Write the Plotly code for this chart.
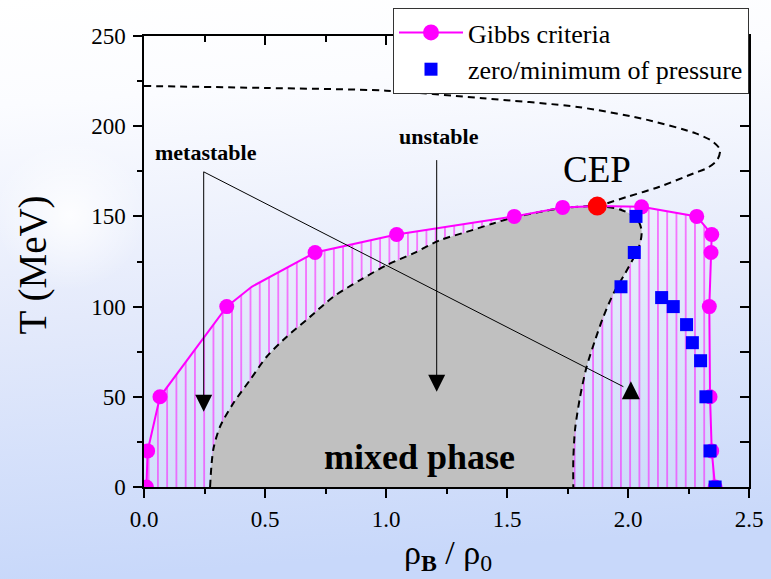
import base64
import plotly.graph_objects as go

# ---------------- data ----------------
# Gibbs criteria curve (polyline) and its marked points
gibbs_line_x = [0.01, 0.015, 0.066, 0.342, 0.445, 0.707, 1.044, 1.530, 1.730, 1.873, 2.056, 2.284, 2.346, 2.343, 2.336, 2.339, 2.346, 2.360]
gibbs_line_y = [0, 20, 50, 100, 111, 130, 140, 150, 155, 155.7, 155.3, 150, 140, 130, 100, 50, 20, 0]
gibbs_pts_x = [0.01, 0.015, 0.066, 0.342, 0.707, 1.044, 1.530, 1.730, 2.056, 2.284, 2.346, 2.343, 2.336, 2.339, 2.346, 2.360]
gibbs_pts_y = [0, 20, 50, 100, 130, 140, 150, 155, 155.3, 150, 140, 130, 100, 50, 20, 0]

# zero / minimum of pressure
pressure_x = [2.033, 2.026, 1.971, 2.139, 2.187, 2.242, 2.266, 2.300, 2.322, 2.339, 2.360]
pressure_y = [150, 130, 111, 105, 100, 90, 80, 70, 50, 20, 0]

# critical end point
cep_x = [1.873]
cep_y = [155.7]

# spinodal boundary of the mixed phase (left branch, bottom -> CEP)
spin_left_x = [0.273, 0.286, 0.314, 0.369, 0.438, 0.507, 0.590, 0.686, 0.782, 0.893, 1.003, 1.113, 1.223, 1.333, 1.443, 1.512, 1.636, 1.730, 1.873]
spin_left_y = [0, 20.5, 33.4, 46.4, 59.3, 72.2, 83.3, 94.3, 105.4, 114.7, 123, 129.5, 136.8, 141.4, 146.1, 148.9, 152.5, 154.6, 155.7]
# right branch, CEP -> bottom
spin_right_x = [1.873, 1.967, 2.036, 2.056, 2.050, 2.029, 1.988, 1.940, 1.898, 1.864, 1.829, 1.802, 1.781, 1.774, 1.774]
spin_right_y = [155.7, 153.8, 148.9, 142.4, 135, 128.5, 118.4, 107.3, 94.3, 81.4, 66.6, 50, 31.6, 15, 0]
# upper dashed branch, left edge -> CEP
upper_x = [0.00, 0.50, 1.00, 1.40, 1.80, 2.08, 2.28, 2.35, 2.38, 2.37, 2.33, 2.27, 2.13, 1.995, 1.912, 1.873]
upper_y = [222.3, 221.2, 219.7, 215.5, 210.5, 203.5, 196.0, 191.5, 187, 181.5, 177, 173.8, 166.4, 160.8, 157.2, 155.7]

# arrow guides
meta_vertex = (0.2467, 174.7)
meta_down_tip = (0.2467, 41.7)
meta_diag_end = (1.981, 55.6)
meta_up_tip = (2.012, 58.6)
unst_top = (1.2095, 181.2)
unst_tip = (1.2095, 52.8)

x_ticks = [0.0, 0.5, 1.0, 1.5, 2.0, 2.5]
x_ticktext = ["0.0", "0.5", "1.0", "1.5", "2.0", "2.5"]
x_minor = [0.25, 0.75, 1.25, 1.75, 2.25]
y_ticks = [0, 50, 100, 150, 200, 250]
y_ticktext = ["0", "50", "100", "150", "200", "250"]
y_minor = [25, 75, 125, 175, 225]

FONT = "Liberation Serif, Times New Roman, serif"
MAGENTA = "#ff00ff"

# ---------------- figure ----------------
fig = go.Figure()

# hatched metastable region (below Gibbs curve)
fig.add_trace(go.Scatter(
    x=gibbs_line_x, y=gibbs_line_y, mode="none", fill="toself",
    fillcolor="rgba(0,0,0,0)",
    fillpattern=dict(shape="|", size=9.26, solidity=0.2, fgcolor=MAGENTA, bgcolor="rgba(0,0,0,0)"),
    showlegend=False, hoverinfo="skip"))

# gray unstable region with dashed spinodal
fig.add_trace(go.Scatter(
    x=spin_left_x + spin_right_x[1:], y=spin_left_y + spin_right_y[1:],
    mode="lines", fill="toself", fillcolor="#c0c0c0",
    line=dict(color="black", width=2, dash="7px,5px", shape="spline", smoothing=0.8),
    showlegend=False, hoverinfo="skip"))

# upper dashed branch
fig.add_trace(go.Scatter(
    x=upper_x, y=upper_y, mode="lines",
    line=dict(color="black", width=2, dash="7px,5px", shape="spline", smoothing=0.8),
    showlegend=False, hoverinfo="skip"))

# Gibbs line + markers
fig.add_trace(go.Scatter(x=gibbs_line_x, y=gibbs_line_y, mode="lines",
                         line=dict(color=MAGENTA, width=2), showlegend=False, hoverinfo="skip"))
fig.add_trace(go.Scatter(x=gibbs_pts_x, y=gibbs_pts_y, mode="markers",
                         marker=dict(symbol="circle", size=15, color=MAGENTA), showlegend=False))
# legend entry for Gibbs criteria
fig.add_trace(go.Scatter(x=[None], y=[None], mode="lines+markers", name="Gibbs criteria",
                         line=dict(color=MAGENTA, width=2),
                         marker=dict(symbol="circle", size=16, color=MAGENTA)))

# zero/minimum of pressure
fig.add_trace(go.Scatter(x=pressure_x, y=pressure_y, mode="markers", name="zero/minimum of pressure",
                         marker=dict(symbol="square", size=13, color="#0000ff")))

# CEP
fig.add_trace(go.Scatter(x=cep_x, y=cep_y, mode="markers",
                         marker=dict(symbol="circle", size=19, color="#ff0000"), showlegend=False))

# arrows
arrow_line = dict(color="black", width=1)
fig.add_trace(go.Scatter(x=[meta_down_tip[0], meta_vertex[0], meta_diag_end[0]],
                         y=[meta_down_tip[1] + 8, meta_vertex[1], meta_diag_end[1]],
                         mode="lines", line=arrow_line, showlegend=False, hoverinfo="skip"))
fig.add_trace(go.Scatter(x=[unst_top[0], unst_tip[0]], y=[unst_top[1], unst_tip[1] + 8],
                         mode="lines", line=arrow_line, showlegend=False, hoverinfo="skip"))
fig.add_trace(go.Scatter(x=[meta_down_tip[0], unst_tip[0]], y=[meta_down_tip[1], unst_tip[1]],
                         mode="markers", marker=dict(symbol="arrow-down", size=17, color="black"),
                         showlegend=False, hoverinfo="skip", cliponaxis=False))
fig.add_trace(go.Scatter(x=[meta_up_tip[0]], y=[meta_up_tip[1]],
                         mode="markers", marker=dict(symbol="arrow-up", size=18, color="black"),
                         showlegend=False, hoverinfo="skip", cliponaxis=False))

# dummy trace for mirrored (inside) ticks
fig.add_trace(go.Scatter(x=[None], y=[None], xaxis="x2", yaxis="y2", showlegend=False, hoverinfo="skip"))

# text annotations
def ann(text, x, y, size, bold=False):
    fig.add_annotation(text=f"<b>{text}</b>" if bold else text, x=x, y=y, xref="x", yref="y",
                       showarrow=False, xanchor="center", yanchor="middle",
                       font=dict(family=FONT, size=size, color="black"))

ann("metastable", 0.257, 185.2, 22, bold=True)
ann("unstable", 1.219, 194.2, 22, bold=True)
ann("CEP", 1.871, 176.0, 37)
ann("mixed phase", 1.138, 16.5, 36, bold=True)

# axis titles
fig.add_annotation(text="T (MeV)", xref="paper", yref="paper", x=-0.183, y=0.492,
                   textangle=-90, showarrow=False, xanchor="center", yanchor="middle",
                   font=dict(family=FONT, size=39, color="black"))
fig.add_annotation(text="ρ<sub><b>B</b></sub> / ρ<sub>0</sub>", xref="paper", yref="paper",
                   x=0.502, y=-0.15, showarrow=False, xanchor="center", yanchor="middle",
                   font=dict(family=FONT, size=34, color="black"))

# background gradient
svg = """<svg xmlns='http://www.w3.org/2000/svg' width='771' height='579' viewBox='0 0 771 579'>
<defs>
<linearGradient id='g' x1='0' y1='0' x2='0.1' y2='1'>
<stop offset='0' stop-color='#ffffff'/>
<stop offset='0.18' stop-color='#fbfcff'/>
<stop offset='0.55' stop-color='#e4eafb'/>
<stop offset='1' stop-color='#c8d8fa'/>
</linearGradient>
<radialGradient id='r' cx='70' cy='215' r='75' gradientUnits='userSpaceOnUse'>
<stop offset='0' stop-color='#ffffff' stop-opacity='0.85'/>
<stop offset='1' stop-color='#ffffff' stop-opacity='0'/>
</radialGradient>
</defs>
<rect width='771' height='579' fill='url(#g)'/>
<rect width='771' height='579' fill='url(#r)'/>
</svg>"""
src = "data:image/svg+xml;base64," + base64.b64encode(svg.encode()).decode()

L, R, T, B = 144, 22, 36, 92
W, H = 771, 579
pw, ph = W - L - R, H - T - B
fig.add_layout_image(source=src, xref="paper", yref="paper", x=-L / pw, y=1 + T / ph,
                     sizex=W / pw, sizey=H / ph, sizing="stretch", xanchor="left", yanchor="top",
                     layer="below")

tickfont = dict(family=FONT, size=23, color="black")
common = dict(showgrid=False, zeroline=False, showline=True, linecolor="black", linewidth=1.5,
              tickcolor="black", tickwidth=1.5, ticklen=9)
fig.update_layout(
    width=W, height=H, margin=dict(l=L, r=R, t=T, b=B, autoexpand=False),
    font=dict(family=FONT, color="black"),
    paper_bgcolor="white", plot_bgcolor="rgba(0,0,0,0)",
    xaxis=dict(range=[0, 2.5], ticks="outside", tickvals=x_ticks, ticktext=x_ticktext,
               minor=dict(ticks="outside", tickvals=x_minor, ticklen=5, tickwidth=1.5, tickcolor="black"),
               tickfont=tickfont, ticklabelstandoff=2, **common),
    yaxis=dict(range=[0, 250], ticks="outside", tickvals=y_ticks, ticktext=y_ticktext,
               minor=dict(ticks="outside", tickvals=y_minor, ticklen=5, tickwidth=1.5, tickcolor="black"),
               tickfont=tickfont, ticklabelstandoff=3, **common),
    xaxis2=dict(range=[0, 2.5], overlaying="x", side="top", anchor="y2", ticks="inside",
                tickvals=x_ticks, showticklabels=False,
                minor=dict(ticks="inside", tickvals=x_minor, ticklen=6, tickwidth=1.5, tickcolor="black"),
                **common),
    yaxis2=dict(range=[0, 250], overlaying="y", side="right", anchor="x2", ticks="inside",
                tickvals=y_ticks, showticklabels=False,
                minor=dict(ticks="inside", tickvals=y_minor, ticklen=9, tickwidth=1.5, tickcolor="black"),
                **common),
    legend=dict(x=1.0, y=1 + (T - 8) / ph, xanchor="right", yanchor="top",
                bgcolor="white", bordercolor="#333333", borderwidth=1,
                font=dict(family=FONT, size=26, color="black"), itemwidth=64,
                tracegroupgap=0),
    showlegend=True,
)

fig.write_html("out.html")
